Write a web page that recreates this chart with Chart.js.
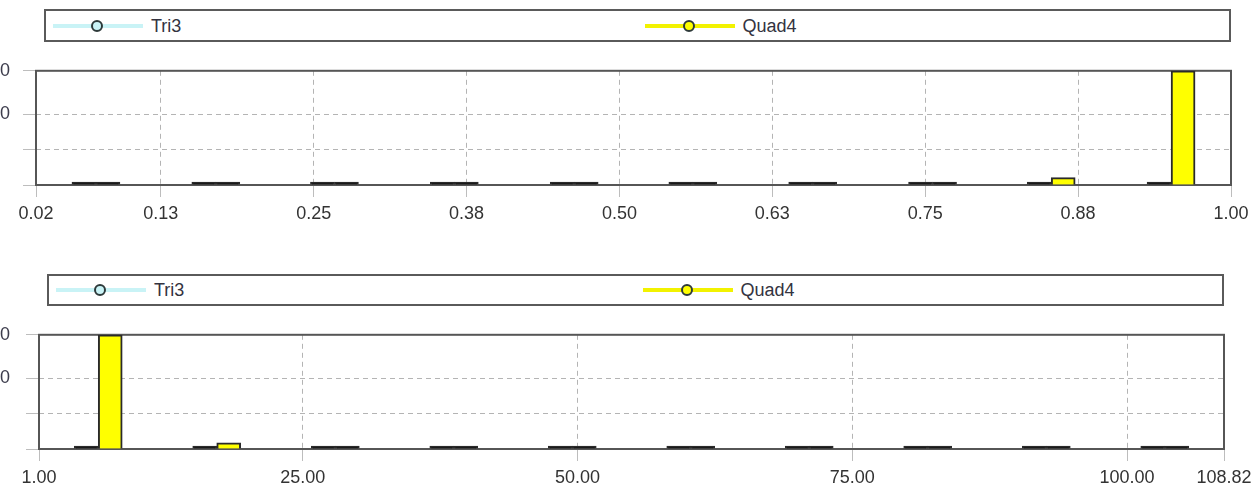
<!DOCTYPE html>
<html>
<head>
<meta charset="utf-8">
<script src="https://cdn.jsdelivr.net/npm/chart.js@4.4.1/dist/chart.umd.min.js"></script>
<style>
  html, body { margin:0; padding:0; background:#fff; width:1251px; height:488px; overflow:hidden; position:relative;
    font-family:"Liberation Sans", Arial, sans-serif; }
  .legend { position:absolute; box-sizing:border-box; border:2px solid #5a5a5a; background:#fff; display:flex; }
  .legend .item { flex:1; position:relative; }
  .legend .line { position:absolute; left:7px; top:50%; width:90px; height:4px; margin-top:-2px; }
  .legend .dot { position:absolute; left:38px; top:-4px; width:8px; height:8px; border-radius:50%; border:2px solid #2e3a3a; }
  .legend .lbl { position:absolute; left:105px; top:50%; transform:translateY(-50%); font-size:18px; color:#333340; }
  canvas { position:absolute; }
</style>
</head>
<body>
<div class="legend" id="legTop" style="left:44px; top:9px; width:1187px; height:33px;"></div>
<canvas id="chartTop" width="1290" height="171" style="left:-35px; top:56px;"></canvas>
<div class="legend" id="legBot" style="left:47px; top:274px; width:1177px; height:32px;"></div>
<canvas id="chartBot" width="1293" height="171" style="left:-35px; top:320px;"></canvas>
<script>
// series
const seriesNames = ['Tri3', 'Quad4'];
const seriesFill = ['#c9f3f6', '#ffff00'];
const seriesLine = ['#c9f3f6', '#f2f200'];

// top panel: 0.02 .. 1.00
const topBinCenters = [0.072, 0.170, 0.267, 0.365, 0.463, 0.560, 0.658, 0.756, 0.853, 0.951];
const topTri3  = [0, 0, 0, 0, 0, 0, 0, 0, 0, 0];
const topQuad4 = [0, 0, 0, 0, 0, 0, 0, 0, 105, 1610];
const topXTicks = [0.023, 0.125, 0.25, 0.375, 0.5, 0.625, 0.75, 0.875, 1.0];
const topYTicks = [0, 500, 1000, 1610];

// bottom panel: 1.00 .. 108.82
const botBinCenters = [6.39, 17.17, 27.96, 38.74, 49.52, 60.30, 71.08, 81.86, 92.65, 103.43];
const botTri3  = [0, 0, 0, 0, 0, 0, 0, 0, 0, 0];
const botQuad4 = [1620, 88, 0, 0, 0, 0, 0, 0, 0, 0];
const botXTicks = [1.0, 25, 50, 75, 100, 108.82];
const botYTicks = [0, 500, 1000, 1620];

const FONT = { family: '"Liberation Sans", Arial, sans-serif', size: 18 };

function buildLegend(id){
  const box = document.getElementById(id);
  seriesNames.forEach((name, i) => {
    const item = document.createElement('div');
    item.className = 'item';
    item.innerHTML = '<div class="line" style="background:' + seriesLine[i] + '">' +
      '<div class="dot" style="background:' + seriesFill[i] + '"></div></div>' +
      '<div class="lbl">' + name + '</div>';
    box.appendChild(item);
  });
}

// full box round the plot area, under the bars
const framePlugin = {
  id: 'frame',
  beforeDatasetsDraw(chart){
    const a = chart.chartArea, c = chart.ctx;
    c.save();
    c.strokeStyle = '#565656';
    c.lineWidth = 2;
    c.strokeRect(a.left, a.top, a.right - a.left, a.bottom - a.top);
    c.restore();
  }
};

function colorFor(i){
  return ctx => (ctx.raw && ctx.raw.y === 0) ? '#1a1a1a' : seriesFill[i];
}

function makeChart(id, o){
  const sets = [o.tri3, o.quad4].map((vals, i) => ({
    label: seriesNames[i],
    data: o.centers.map((x, k) => ({ x: x, y: vals[k] })),
    backgroundColor: colorFor(i),
    borderColor: '#2a2a2a',
    borderWidth: 2,
    minBarLength: 3,
    barThickness: 24
  }));
  return new Chart(document.getElementById(id), {
    type: 'bar',
    data: { datasets: sets },
    plugins: [framePlugin],
    options: {
      responsive: false,
      animation: false,
      layout: { padding: { left: 0, right: o.padRight, top: o.padTop, bottom: 0 } },
      plugins: { legend: { display: false }, tooltip: { enabled: false } },
      scales: {
        x: {
          type: 'linear',
          min: o.xTicks[0],
          max: o.xTicks[o.xTicks.length - 1],
          offset: false,
          afterBuildTicks: s => { s.ticks = o.xTicks.map(v => ({ value: v })); },
          afterFit: s => { s.height = 42; },
          ticks: { callback: v => Number(v).toFixed(2), font: FONT, color: '#333333', padding: 6,
                   maxRotation: 0, autoSkip: false },
          grid: { color: '#b4b4b4', lineWidth: 1, tickLength: 12, tickColor: '#bdbdbd', offset: false },
          border: { display: false, dash: [5, 4] }
        },
        y: {
          min: 0,
          max: o.yTicks[o.yTicks.length - 1],
          afterBuildTicks: s => { s.ticks = o.yTicks.map(v => ({ value: v })); },
          afterFit: s => { s.width = o.axisW; },
          ticks: { crossAlign: 'far', font: FONT, color: '#3c3c4c', padding: 4 },
          grid: { color: '#b4b4b4', lineWidth: 1, tickLength: 13, tickColor: '#bdbdbd' },
          border: { display: false, dash: [5, 4] }
        }
      }
    }
  });
}

buildLegend('legTop');
buildLegend('legBot');

makeChart('chartTop', {
  centers: topBinCenters, tri3: topTri3, quad4: topQuad4,
  xTicks: topXTicks, yTicks: topYTicks, axisW: 71, padRight: 24, padTop: 13
});
makeChart('chartBot', {
  centers: botBinCenters, tri3: botTri3, quad4: botQuad4,
  xTicks: botXTicks, yTicks: botYTicks, axisW: 74, padRight: 34, padTop: 14
});
</script>
</body>
</html>
